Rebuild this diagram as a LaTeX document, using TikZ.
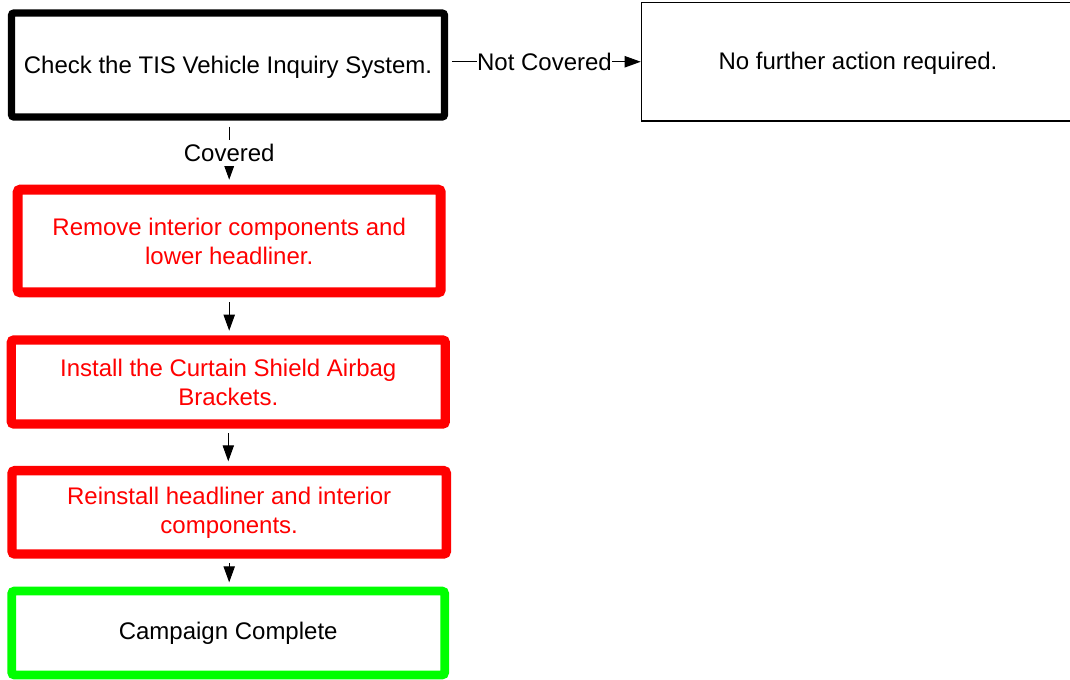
\documentclass[tikz,border=0pt]{standalone}
\usepackage{fontspec}
\setmainfont{Liberation Sans}
\usetikzlibrary{arrows.meta}

\definecolor{stepred}{RGB}{255,0,0}
\definecolor{donegreen}{RGB}{0,255,0}

\tikzset{
  stepbox/.style={draw, rounded corners=2pt, fill=white, align=center, inner sep=0pt,
    font=\fontsize{18}{21.75}\selectfont},
  flow/.style={-{Triangle[length=12pt,width=8.5pt]}, line width=0.75pt},
  flowlabel/.style={fill=white, inner xsep=0pt, inner ysep=3pt, font=\fontsize{18}{21.75}\selectfont}
}

\begin{document}
\begin{tikzpicture}[x=0.75pt,y=0.75pt,yscale=-1,xscale=1]
\useasboundingbox (0,0) rectangle (1070,679);

%Shape: Check box
\node [stepbox, line width=5.6pt, minimum width=324.75pt, minimum height=78pt] (check) at (228,65)
  {\raisebox{-1.5pt}[\height][\depth]{Check the TIS Vehicle Inquiry System.}};
%Shape: Not covered box
\node [stepbox, line width=0.9pt, rounded corners=0pt, minimum width=325pt, minimum height=89pt] (nofurther) at (858,61.75)
  {\raisebox{-1.5pt}[\height][\depth]{No further action required.}};
%Shape: Remove box
\node [stepbox, draw=stepred, text=stepred, line width=7.5pt, minimum width=317.25pt, minimum height=77pt] (remove) at (229.2,241)
  {Remove interior components and\\ lower headliner.};
%Shape: Install box
\node [stepbox, draw=stepred, text=stepred, line width=7pt, minimum width=325.5pt, minimum height=63pt] (install) at (228.3,382)
  {Install the Curtain Shield Airbag\\ Brackets.};
%Shape: Reinstall box
\node [stepbox, draw=stepred, text=stepred, line width=7pt, minimum width=325.7pt, minimum height=62.5pt] (reinstall) at (229.2,512.3)
  {Reinstall headliner and interior\\ components.};
%Shape: Complete box
\node [stepbox, draw=donegreen, line width=6.5pt, minimum width=324.75pt, minimum height=63pt] (complete) at (228.2,633)
  {Campaign Complete};

%Straight Lines
\draw [flow, shorten <=2.8pt] (check.east |- nofurther.west) -- (nofurther.west)
  node [flowlabel, midway] {Not Covered};
\draw [flow, shorten <=4.5pt, shorten >=3.75pt] (check.south -| remove.north) -- (remove.north)
  node [flowlabel, midway] {Covered};
\draw [flow, shorten <=3.75pt, shorten >=3.5pt] (remove.south) -- (remove.south |- install.north);
\draw [flow, shorten <=3.5pt, shorten >=3.5pt] (install.south) -- (install.south |- reinstall.north);
\draw [flow, shorten <=3.5pt, shorten >=3.25pt] (reinstall.south) -- (reinstall.south |- complete.north);
\end{tikzpicture}
\end{document}
